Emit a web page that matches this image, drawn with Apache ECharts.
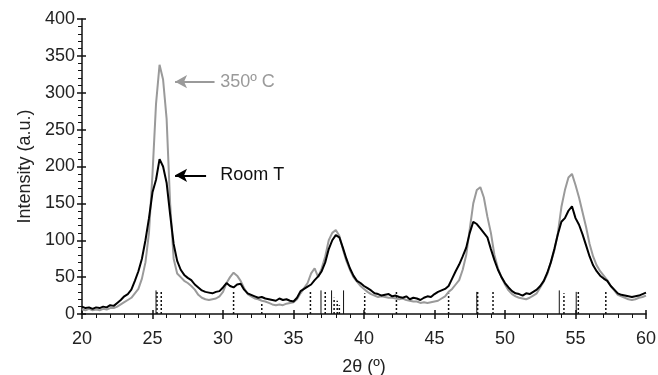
<!DOCTYPE html>
<html>
<head>
<meta charset="utf-8">
<script src="https://cdn.jsdelivr.net/npm/echarts@6/dist/echarts.min.js"></script>
<style>
  html, body { margin: 0; padding: 0; background: #fff; }
  #chart { width: 658px; height: 375px; }
</style>
</head>
<body>
<div id="chart"></div>
<script>
// 2θ grid of the scans (start + step)
const thetaStart = 20
const thetaStep = 0.25

const roomT = [
  10, 8, 9, 7, 9, 8, 10, 9, 12, 11, 15, 19, 24, 27, 33, 45,
  58, 75, 100, 130, 165, 182, 210, 200, 178, 135, 95, 72, 60, 53, 49, 46,
  40, 36, 32, 30, 29, 28, 30, 31, 36, 42, 38, 36, 40, 41, 33, 28,
  26, 24, 22, 23, 21, 20, 19, 18, 21, 19, 20, 18, 17, 22, 31, 34,
  37, 40, 46, 51, 58, 70, 88, 100, 107, 104, 90, 75, 62, 52, 45, 42,
  38, 35, 32, 28, 27, 25, 26, 27, 24, 25, 23, 22, 24, 20, 22, 21,
  19, 22, 24, 23, 27, 30, 32, 34, 38, 48, 58, 67, 78, 90, 110, 125,
  122, 116, 110, 104, 88, 73, 60, 50, 42, 36, 31, 28, 27, 25, 28, 27,
  30, 33, 38, 45, 56, 70, 88, 108, 125, 130, 140, 146, 130, 121, 108, 93,
  78, 66, 58, 52, 48, 45, 38, 33, 28, 26, 25, 24, 23, 24, 25, 27,
  29
]

const c350 = [
  6, 5, 7, 5, 6, 5, 7, 6, 8, 8, 10, 13, 16, 19, 22, 28,
  34, 48, 70, 110, 190, 285, 338, 318, 265, 150, 75, 55, 50, 45, 42, 38,
  33, 26, 22, 20, 19, 20, 21, 24, 30, 42, 50, 56, 52, 45, 35, 27,
  24, 21, 20, 18, 17, 15, 13, 12, 13, 12, 14, 15, 16, 20, 28, 35,
  42, 55, 62, 50, 62, 78, 100, 110, 114, 106, 88, 72, 60, 50, 44, 38,
  34, 30, 27, 25, 23, 24, 23, 22, 22, 21, 20, 21, 19, 18, 17, 17,
  15, 16, 15, 16, 17, 18, 21, 24, 30, 34, 40, 46, 60, 80, 115, 150,
  168, 172, 158, 132, 110, 80, 62, 50, 40, 32, 27, 24, 22, 21, 20, 22,
  25, 28, 36, 44, 54, 70, 86, 110, 145, 168, 185, 190, 175, 158, 138, 118,
  95, 78, 66, 58, 52, 46, 38, 32, 26, 24, 22, 20, 19, 20, 22, 23,
  25
]

// reference pattern sticks: [2θ, height]
const solidSticks = [
  [25.25, 32], [36.95, 32], [37.7, 32], [38.55, 32], [48.0, 30], [53.85, 32], [55.05, 30]
]
const dottedSticks = [
  [25.32, 32], [25.62, 32], [30.75, 32], [32.75, 15], [36.2, 32], [37.25, 32],
  [37.88, 22], [38.1, 18], [38.25, 12], [40.05, 28], [42.3, 32], [46.0, 28],
  [48.06, 30], [49.15, 32], [54.18, 28], [55.2, 32], [57.15, 32]
]

const xTicks = [20, 25, 30, 35, 40, 45, 50, 55, 60]
const yMax = 400

const toPairs = arr => arr.map((v, i) => [thetaStart + i * thetaStep, v])

const chart = echarts.init(document.getElementById('chart'))
const font = 'Liberation Sans, Arial, sans-serif'

const stickSeries = (data, dashed) => ({
  type: 'custom',
  xAxisIndex: 0,
  yAxisIndex: 0,
  silent: true,
  z: 1,
  data: data,
  renderItem: (params, api) => {
    const p0 = api.coord([api.value(0), 0])
    const p1 = api.coord([api.value(0), api.value(1)])
    return {
      type: 'line',
      shape: { x1: p0[0], y1: p0[1], x2: p1[0], y2: p1[1] },
      style: {
        stroke: '#111',
        lineWidth: dashed ? 1.5 : 1,
        lineDash: dashed ? [2, 2] : null
      }
    }
  }
})

chart.setOption({
  animation: false,
  grid: { left: 82, right: 12, top: 19, bottom: 61, outerBoundsMode: 'none' },
  xAxis: [
    {
      type: 'value', min: 20, max: 60, interval: 5,
      name: '2θ (º)', nameLocation: 'middle', nameGap: 44,
      nameTextStyle: { fontFamily: font, fontSize: 18, color: '#222' },
      axisLine: { lineStyle: { color: '#111', width: 1.5 } },
      axisTick: { length: 5, lineStyle: { color: '#111', width: 1.5 } },
      minorTick: { show: true, splitNumber: 5, length: 4, lineStyle: { color: '#111', width: 1 } },
      axisLabel: {
        margin: 16, fontFamily: font, fontSize: 18, color: '#222',
        formatter: v => xTicks.includes(v) ? String(v) : ''
      },
      splitLine: { show: false }
    },
    {
      // second copy of the axis: the inner half of the major ticks
      type: 'value', min: 20, max: 60, interval: 5, position: 'bottom',
      axisLine: { show: false },
      axisTick: { inside: true, length: 4, lineStyle: { color: '#111', width: 1.5 } },
      axisLabel: { show: false },
      splitLine: { show: false }
    }
  ],
  yAxis: [
    {
      type: 'value', min: 0, max: yMax, interval: 50,
      name: 'Intensity (a.u.)', nameLocation: 'middle', nameGap: 48,
      nameTextStyle: { fontFamily: font, fontSize: 18, color: '#222' },
      axisLine: { show: true, lineStyle: { color: '#111', width: 1.5 } },
      axisTick: { show: true, length: 5, lineStyle: { color: '#111', width: 1.5 } },
      minorTick: { show: true, splitNumber: 5, length: 4, lineStyle: { color: '#111', width: 1 } },
      axisLabel: { margin: 7, fontFamily: font, fontSize: 18, color: '#222' },
      splitLine: { show: false }
    },
    {
      type: 'value', min: 0, max: yMax, interval: 50, position: 'left',
      axisLine: { show: false },
      axisTick: { show: true, inside: true, length: 4, lineStyle: { color: '#111', width: 1.5 } },
      axisLabel: { show: false },
      splitLine: { show: false }
    }
  ],
  series: [
    stickSeries(solidSticks, false),
    stickSeries(dottedSticks, true),
    {
      name: '350º C',
      type: 'line',
      data: toPairs(c350),
      showSymbol: false,
      z: 2,
      lineStyle: { color: '#9a9a9a', width: 2 },
      markLine: {
        silent: true,
        symbolSize: [10, 12],
        lineStyle: { color: '#9a9a9a', width: 2, type: 'solid' },
        label: { show: false },
        data: [[
          { coord: [29.4, 315], symbol: 'none' },
          { coord: [26.6, 315], symbol: 'arrow' }
        ]]
      },
      markPoint: {
        silent: true,
        symbol: 'circle', symbolSize: 0,
        label: {
          show: true, position: 'right', distance: 0,
          formatter: '350º C', fontFamily: font, fontSize: 18, color: '#9a9a9a'
        },
        data: [{ coord: [29.8, 315] }]
      }
    },
    {
      name: 'Room T',
      type: 'line',
      data: toPairs(roomT),
      showSymbol: false,
      z: 3,
      lineStyle: { color: '#000', width: 2 },
      markLine: {
        silent: true,
        symbolSize: [10, 12],
        lineStyle: { color: '#000', width: 2, type: 'solid' },
        label: { show: false },
        data: [[
          { coord: [28.8, 188], symbol: 'none' },
          { coord: [26.6, 188], symbol: 'arrow' }
        ]]
      },
      markPoint: {
        silent: true,
        symbol: 'circle', symbolSize: 0,
        label: {
          show: true, position: 'right', distance: 0,
          formatter: 'Room T', fontFamily: font, fontSize: 18, color: '#111'
        },
        data: [{ coord: [29.8, 188] }]
      }
    }
  ]
})
</script>
</body>
</html>
